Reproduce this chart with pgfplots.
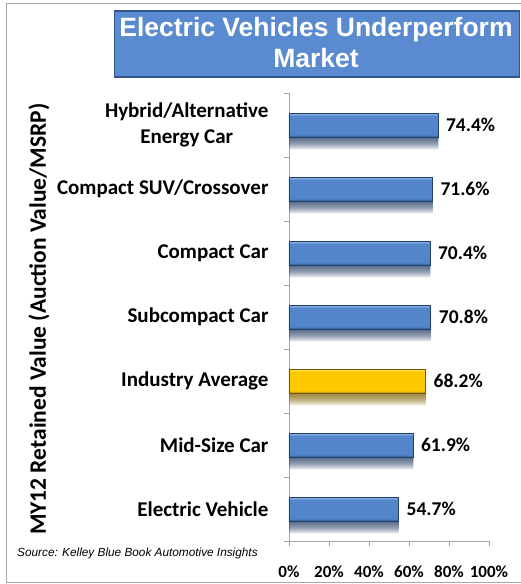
\documentclass[border=0pt]{standalone}
\usepackage{pgfplots}
\pgfplotsset{compat=1.18}
\usepackage{fontspec}
\setmainfont{Carlito}
\newfontfamily\arialfont{Liberation Sans}
\usetikzlibrary{shadows}
\definecolor{bluetop}{HTML}{9CBFEC}
\definecolor{bluemid}{HTML}{5285CA}
\definecolor{bluebot}{HTML}{2F5A94}
\definecolor{bluedraw}{HTML}{243F66}
\definecolor{yeltop}{HTML}{FFE466}
\definecolor{yelmid}{HTML}{FFC900}
\definecolor{yelbot}{HTML}{B38A00}
\definecolor{yeldraw}{HTML}{6E5400}
\definecolor{titleblue}{HTML}{5A8BD0}
\definecolor{titledark}{HTML}{2F558C}
\definecolor{axisgray}{HTML}{A6A6A6}
\pgfdeclareverticalshading{bluebar}{100bp}{color(0bp)=(bluebot); color(25bp)=(bluebot); color(30bp)=(bluemid); color(69bp)=(bluemid); color(75bp)=(bluetop); color(100bp)=(bluetop)}
\pgfdeclareverticalshading{yelbar}{100bp}{color(0bp)=(yelbot); color(25bp)=(yelbot); color(30bp)=(yelmid); color(69bp)=(yelmid); color(75bp)=(yeltop); color(100bp)=(yeltop)}
\tikzset{sh/.style={drop shadow={shadow xshift=0.5pt, shadow yshift=-#1pt, opacity=0.055, fill=black, draw=none}}}
\pgfplotsset{
  barbase/.style={bar shift=0pt, line width=0.6pt,
    sh=1, sh=2, sh=3, sh=4, sh=5, sh=6, sh=7, sh=8, sh=9, sh=10, sh=11, sh=12},
  bluebar/.style={barbase, draw=bluedraw, shading=bluebar},
  yelbar/.style={barbase, draw=yeldraw, shading=yelbar},
}
\begin{document}
\begin{tikzpicture}[x=1pt,y=1pt]
\useasboundingbox (0,0) rectangle (520,-584);
\draw[axisgray, line width=0.8pt] (6,-3) rectangle (530,-582);
\node[fill=titleblue, draw=titledark, line width=1.5pt, minimum width=405pt, minimum height=66pt, anchor=north west, inner sep=0pt] at (113.5,-10) {};
\node[white, font=\arialfont\bfseries\fontsize{26.5}{31}\selectfont, align=center, inner sep=0pt] at (316,-43) {Electric Vehicles Underperform\\Market};
\node[font=\arialfont\itshape\fontsize{11.8}{14}\selectfont, anchor=west, inner sep=0pt] at (17,-553) {Source: Kelley Blue Book Automotive Insights};
\begin{axis}[
  at={(289pt,-541pt)}, anchor=south west,
  scale only axis, width=200pt, height=448pt,
  xbar, bar width=24pt,
  xmin=0, xmax=100, ymin=-0.5, ymax=6.5,
  axis x line*=bottom, axis y line*=left,
  axis line style={axisgray, line width=0.8pt},
  tick align=outside,
  xtick={0,20,40,60,80,100},
  xticklabels={0\%,20\%,40\%,60\%,80\%,100\%},
  x tick label style={font=\bfseries\fontsize{17}{20}\selectfont, yshift=-16pt},
  x tick style={axisgray, line width=0.8pt},
  major tick length=5pt,
  ytick={0,1,2,3,4,5,6},
  yticklabels={Electric Vehicle, Mid-Size Car, Industry Average, Subcompact Car, Compact Car, Compact SUV/Crossover, {Hybrid/Alternative\\Energy Car}},
  y tick label style={align=center, font=\bfseries\fontsize{21}{26}\selectfont, xshift=-12pt},
  major y tick style={draw=none},
  minor ytick={-0.5,0.5,1.5,2.5,3.5,4.5,5.5,6.5},
  minor y tick style={axisgray, line width=0.8pt},
  minor tick length=5pt,
  ylabel={MY12 Retained Value (Auction Value/MSRP)},
  ylabel style={font=\bfseries\fontsize{23.5}{28}\selectfont, at={(axis description cs:-1.25,0.495)}, anchor=center},
  point meta=x,
  nodes near coords={\pgfmathprintnumber[fixed,fixed zerofill,precision=1,assume math mode=true]{\pgfplotspointmeta}\%},
  every node near coord/.append style={font=\bfseries\fontsize{19.5}{23}\selectfont, black, anchor=west, inner sep=0pt, xshift=8pt},
]
\addplot[bluebar] coordinates {(54.7,0)};
\addplot[bluebar] coordinates {(61.9,1)};
\addplot[yelbar] coordinates {(68.2,2)};
\addplot[bluebar] coordinates {(70.8,3)};
\addplot[bluebar] coordinates {(70.4,4)};
\addplot[bluebar] coordinates {(71.6,5)};
\addplot[bluebar] coordinates {(74.4,6)};
\end{axis}
\end{tikzpicture}
\end{document}
